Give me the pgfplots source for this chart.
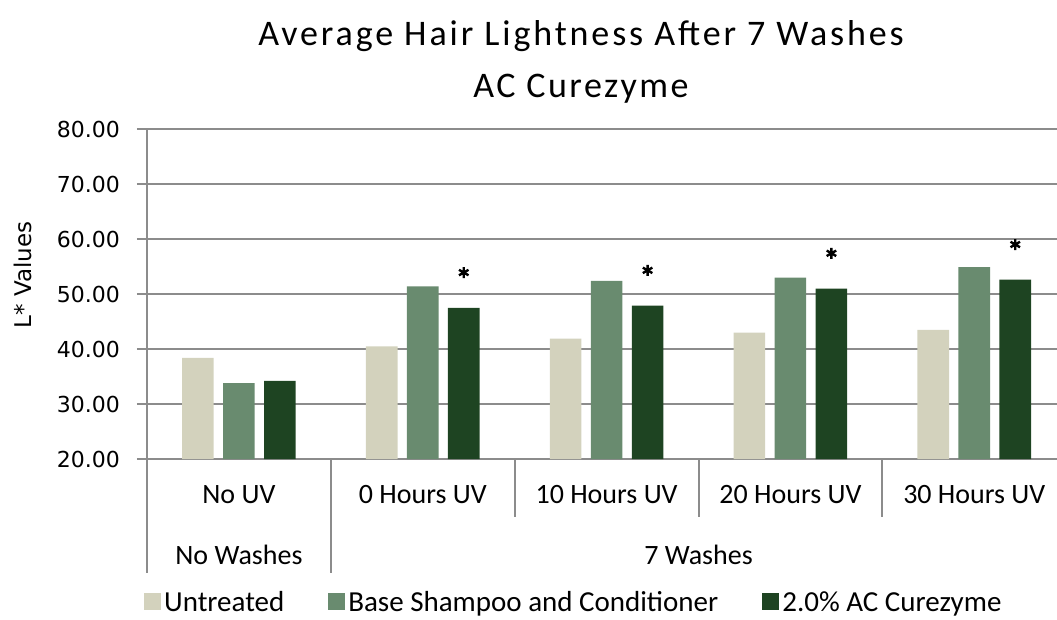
\documentclass[border=0pt]{standalone}
\usepackage{pgfplots}
\pgfplotsset{compat=1.18}
\usepackage{fontspec}
\setmainfont{Carlito}
\newfontfamily\tickfont{DejaVu Sans}
\definecolor{cUn}{RGB}{211,210,189}
\definecolor{cBase}{RGB}{105,139,111}
\definecolor{cCure}{RGB}{30,68,34}
\definecolor{gridc}{RGB}{140,140,140}

\begin{document}
\begin{tikzpicture}
\begin{axis}[
  scale only axis, width=910pt, height=330pt,
  xmin=-0.5, xmax=4.45, ymin=20, ymax=80,
  clip=false,
  axis lines*=left,
  axis line style={gridc, line width=2pt},
  ytick={20,30,...,80},
  xtick=\empty,
  ymajorgrids,
  major grid style={gridc, line width=2pt},
  tick align=outside, major tick length=10pt,
  tick style={gridc, line width=2pt},
  /pgf/number format/fixed, /pgf/number format/fixed zerofill,
  /pgf/number format/precision=2, /pgf/number format/assume math mode=true,
  yticklabel style={font=\tickfont\fontsize{22}{22}\selectfont, inner sep=0pt, anchor=east, xshift=-17pt},
  legend style={at={(axis description cs:-0.0066,-0.434)}, anchor=west,
    legend columns=3, draw=none, fill=none,
    font=\fontsize{29}{29}\selectfont,
    nodes={inner xsep=3pt, inner ysep=0pt},
    /tikz/every even column/.append style={column sep=41pt}},
  legend image code/.code={\path[#1] (0pt,-8pt) rectangle (17pt,9pt);},
  bar width=31.6pt,
]
\coordinate (O) at (rel axis cs:0,0);
\addplot[ybar, fill=cUn, draw=none, bar shift=-41pt] coordinates {(0,38.4) (1,40.5) (2,41.9) (3,43.0) (4,43.5)};
\addlegendentry{Untreated}
\addplot[ybar, fill=cBase, draw=none, bar shift=0pt] coordinates {(0,33.8) (1,51.4) (2,52.4) (3,53.0) (4,54.9)};
\addlegendentry{Base Shampoo and Conditioner}
\addplot[ybar, fill=cCure, draw=none, bar shift=41pt] coordinates {(0,34.2) (1,47.5) (2,47.9) (3,51.0) (4,52.6)};
\addlegendentry{2.0\% AC Curezyme}
% significance asterisks
\addplot[only marks, mark=asterisk, mark size=5.5pt, mark options={black, line width=2.4pt}, forget plot]
  coordinates {(1.223,53.9) (2.223,54.3) (3.223,57.4) (4.223,59.0)};
% category separators
\draw[gridc, line width=2pt] (axis cs:-0.5,20) -- ++(0pt,-114pt);
\draw[gridc, line width=2pt] (axis cs:0.5,20) -- ++(0pt,-114pt);
\draw[gridc, line width=2pt] (axis cs:1.5,20) -- ++(0pt,-58pt);
\draw[gridc, line width=2pt] (axis cs:2.5,20) -- ++(0pt,-58pt);
\draw[gridc, line width=2pt] (axis cs:3.5,20) -- ++(0pt,-58pt);
% category labels
\node[font=\fontsize{28}{28}\selectfont] at (axis cs:0,20) [yshift=-36pt] {No UV};
\node[font=\fontsize{28}{28}\selectfont] at (axis cs:1,20) [yshift=-36pt] {0 Hours UV};
\node[font=\fontsize{28}{28}\selectfont] at (axis cs:2,20) [yshift=-36pt] {10 Hours UV};
\node[font=\fontsize{28}{28}\selectfont] at (axis cs:3,20) [yshift=-36pt] {20 Hours UV};
\node[font=\fontsize{28}{28}\selectfont] at (axis cs:4,20) [yshift=-36pt] {30 Hours UV};
\node[font=\fontsize{28}{28}\selectfont] at (axis cs:0,20) [yshift=-96pt] {No Washes};
\node[font=\fontsize{28}{28}\selectfont] at (axis cs:2.5,20) [yshift=-96pt] {7 Washes};
\end{axis}
\node[font=\fontsize{36}{36}\selectfont\addfontfeatures{LetterSpace=8}, anchor=base] at ([shift={(434pt,413pt)}]O) {Average Hair Lightness After 7 Washes};
\node[font=\fontsize{36}{36}\selectfont\addfontfeatures{LetterSpace=7}, anchor=base] at ([shift={(434pt,361pt)}]O) {AC Curezyme};
\node[rotate=90, font=\tickfont\fontsize{23}{23}\selectfont] at ([shift={(-124pt,184pt)}]O) {L* Values};
\pgfresetboundingbox
\path[use as bounding box] ([shift={(-147pt,-160pt)}]O) rectangle ([shift={(910pt,459pt)}]O);
\end{tikzpicture}
\end{document}
